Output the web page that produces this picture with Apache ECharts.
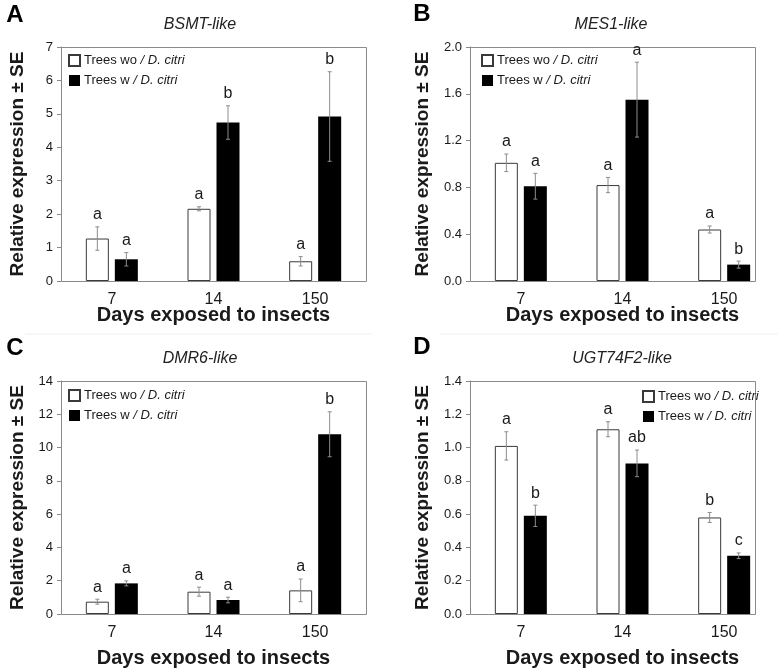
<!DOCTYPE html>
<html><head><meta charset="utf-8">
<script src="https://cdn.jsdelivr.net/npm/echarts@6/dist/echarts.min.js"></script>
<style>html,body{margin:0;padding:0;background:#fff}#c{width:778px;height:668px}</style>
</head><body><div id="c"></div>
<script>
const days = ['7', '14', '150'];
const seriesNames = ['Trees wo / D. citri', 'Trees w / D. citri'];
const panelLetters = ['A', 'B', 'C', 'D'];
const geneNames = ['BSMT-like', 'MES1-like', 'DMR6-like', 'UGT74F2-like'];

// BSMT-like
const bsmtWo = [1.27, 2.16, 0.59];
const bsmtWoSE = [0.35, 0.06, 0.14];
const bsmtW = [0.65, 4.74, 4.92];
const bsmtWSE = [0.20, 0.50, 1.34];
const bsmtWoLetters = ['a', 'a', 'a'];
const bsmtWLetters = ['a', 'b', 'b'];
// MES1-like
const mesWo = [1.01, 0.82, 0.44];
const mesWoSE = [0.075, 0.065, 0.03];
const mesW = [0.81, 1.55, 0.14];
const mesWSE = [0.11, 0.32, 0.03];
const mesWoLetters = ['a', 'a', 'a'];
const mesWLetters = ['a', 'a', 'b'];
// DMR6-like
const dmrWo = [0.74, 1.34, 1.42];
const dmrWoSE = [0.15, 0.27, 0.68];
const dmrW = [1.84, 0.84, 10.8];
const dmrWSE = [0.15, 0.17, 1.35];
const dmrWoLetters = ['a', 'a', 'a'];
const dmrWLetters = ['a', 'a', 'b'];
// UGT74F2-like
const ugtWo = [1.01, 1.11, 0.58];
const ugtWoSE = [0.085, 0.045, 0.03];
const ugtW = [0.59, 0.905, 0.35];
const ugtWSE = [0.064, 0.08, 0.017];
const ugtWoLetters = ['a', 'a', 'b'];
const ugtWLetters = ['b', 'ab', 'c'];

// y axis ticks
const yMax = [7, 2.0, 14, 1.4];
const yInterval = [1, 0.4, 2, 0.2];
const yDecimals = [0, 1, 0, 1];

const panels = [
  {wo: bsmtWo, woSE: bsmtWoSE, w: bsmtW, wSE: bsmtWSE, woL: bsmtWoLetters, wL: bsmtWLetters},
  {wo: mesWo, woSE: mesWoSE, w: mesW, wSE: mesWSE, woL: mesWoLetters, wL: mesWLetters},
  {wo: dmrWo, woSE: dmrWoSE, w: dmrW, wSE: dmrWSE, woL: dmrWoLetters, wL: dmrWLetters},
  {wo: ugtWo, woSE: ugtWoSE, w: ugtW, wSE: ugtWSE, woL: ugtWoLetters, wL: ugtWLetters}
];

const FONT = 'Liberation Sans, Arial, sans-serif';
const TXT = '#1a1a1a';
const FRAME = '#8a8a8a';

const gridPos = [
  {left: 61, top: 47, width: 305, height: 234},
  {left: 470, top: 47, width: 305, height: 234},
  {left: 61, top: 381, width: 305, height: 233},
  {left: 470, top: 381, width: 305, height: 233}
];
// visible plot frames (the right panels' frame is cut at x=755)
const framePos = [
  [61, 47, 305, 234],
  [470, 47, 285, 234],
  [61, 381, 305, 233],
  [470, 381, 285, 233]
];
const yNameGap = [34, 38, 34, 38];
const xNameGap = [24, 24, 34, 34];
const titlePos = [[200, 25], [611, 25], [200, 359], [622, 359]];
const letterPos = [[15, 15], [422, 14], [15, 348], [422, 347]];
const legendPos = [[68, 54], [481, 54], [68, 389], [642, 390]];

const BAR_PX = 23;
const GAP_PX = 6;

function errRender(sign, letters) {
  return function (params, api) {
    const idx = api.value(0), m = api.value(1), se = api.value(2);
    const off = sign * (BAR_PX + GAP_PX) / 2;
    const hi = api.coord([idx, m + se]);
    const lo = api.coord([idx, m - se]);
    const x = hi[0] + off;
    const cap = 2;
    const ls = {stroke: '#8c8c8c', lineWidth: 1};
    return {
      type: 'group',
      children: [
        {type: 'line', shape: {x1: x, y1: hi[1], x2: x, y2: lo[1]}, style: ls},
        {type: 'line', shape: {x1: x - cap, y1: hi[1], x2: x + cap, y2: hi[1]}, style: ls},
        {type: 'line', shape: {x1: x - cap, y1: lo[1], x2: x + cap, y2: lo[1]}, style: ls},
        {type: 'text', style: {text: letters[params.dataIndex], x: x, y: hi[1] - 4,
          textAlign: 'center', textVerticalAlign: 'bottom', fill: TXT,
          font: '16px ' + FONT}}
      ]
    };
  };
}

const grid = [], xAxis = [], yAxis = [], series = [], legend = [], graphic = [];
panels.forEach((p, i) => {
  grid.push(Object.assign({show: false, containLabel: false, outerBoundsMode: 'none'}, gridPos[i]));
  xAxis.push({
    type: 'category', gridIndex: i, data: days,
    axisLine: {show: false}, axisTick: {show: false},
    axisLabel: {color: TXT, fontSize: 16, fontFamily: FONT, margin: 11},
    name: 'Days exposed to insects', nameLocation: 'middle', nameGap: xNameGap[i],
    nameMoveOverlap: false,
    nameTextStyle: {color: TXT, fontSize: 20, fontWeight: 'bold', fontFamily: FONT}
  });
  yAxis.push({
    type: 'value', gridIndex: i, min: 0, max: yMax[i], interval: yInterval[i],
    axisLine: {show: true, lineStyle: {color: FRAME}},
    axisTick: {show: true, length: 4, lineStyle: {color: FRAME}},
    splitLine: {show: false},
    axisLabel: {color: TXT, fontSize: 13, fontFamily: FONT, margin: 8,
      formatter: (v) => v.toFixed(yDecimals[i])},
    name: 'Relative expression ± SE', nameLocation: 'middle', nameGap: yNameGap[i],
    nameMoveOverlap: false,
    nameTextStyle: {color: TXT, fontSize: 19, fontWeight: 'bold', fontFamily: FONT}
  });
  series.push({
    name: seriesNames[0], type: 'bar', xAxisIndex: i, yAxisIndex: i,
    data: p.wo, barWidth: BAR_PX, barGap: (GAP_PX / BAR_PX * 100) + '%',
    itemStyle: {color: '#ffffff', borderColor: '#3a3a3a', borderWidth: 1}
  });
  series.push({
    name: seriesNames[1], type: 'bar', xAxisIndex: i, yAxisIndex: i,
    data: p.w, barWidth: BAR_PX, barGap: (GAP_PX / BAR_PX * 100) + '%',
    itemStyle: {color: '#000000'}
  });
  series.push({
    name: 'err-wo', type: 'custom', xAxisIndex: i, yAxisIndex: i, z: 5, clip: false,
    renderItem: errRender(-1, p.woL),
    data: p.wo.map((v, k) => [k, v, p.woSE[k]])
  });
  series.push({
    name: 'err-w', type: 'custom', xAxisIndex: i, yAxisIndex: i, z: 5, clip: false,
    renderItem: errRender(1, p.wL),
    data: p.w.map((v, k) => [k, v, p.wSE[k]])
  });
  legend.push({
    orient: 'vertical', left: legendPos[i][0], top: legendPos[i][1], padding: 0,
    itemWidth: 11, itemHeight: 11, itemGap: 7, icon: 'rect',
    data: seriesNames, selectedMode: false,
    formatter: (n) => n === seriesNames[0] ? '{n|Trees wo }{i|/ D. citri}' : '{n|Trees w }{i|/ D. citri}',
    textStyle: {color: TXT, fontSize: 13, fontFamily: FONT, padding: [0, 0, 0, -1],
      rich: {n: {fontSize: 13, fontFamily: FONT, color: TXT}, i: {fontSize: 13, fontFamily: FONT, fontStyle: 'italic', color: TXT}}}
  });
  const f = framePos[i];
  graphic.push({type: 'rect', z: 0, shape: {x: f[0] + 0.5, y: f[1] + 0.5, width: f[2], height: f[3]},
    style: {fill: 'none', stroke: FRAME, lineWidth: 1}, silent: true});
  graphic.push({type: 'text', x: titlePos[i][0], y: titlePos[i][1], style: {
    text: geneNames[i], font: 'italic 16px ' + FONT, fill: '#222', textAlign: 'center', textVerticalAlign: 'middle'}});
  graphic.push({type: 'text', x: letterPos[i][0], y: letterPos[i][1], style: {
    text: panelLetters[i], font: 'bold 24px ' + FONT, fill: '#000', textAlign: 'center', textVerticalAlign: 'middle'}});
});
graphic.push({type: 'line', shape: {x1: 25, y1: 334, x2: 372, y2: 334}, style: {stroke: '#f0f0f0', lineWidth: 1}});
graphic.push({type: 'line', shape: {x1: 440, y1: 334, x2: 778, y2: 334}, style: {stroke: '#f0f0f0', lineWidth: 1}});

const chart = echarts.init(document.getElementById('c'), null, {renderer: 'canvas'});
chart.setOption({animation: false, backgroundColor: '#fff', grid, xAxis, yAxis, series, legend, graphic});
</script></body></html>
